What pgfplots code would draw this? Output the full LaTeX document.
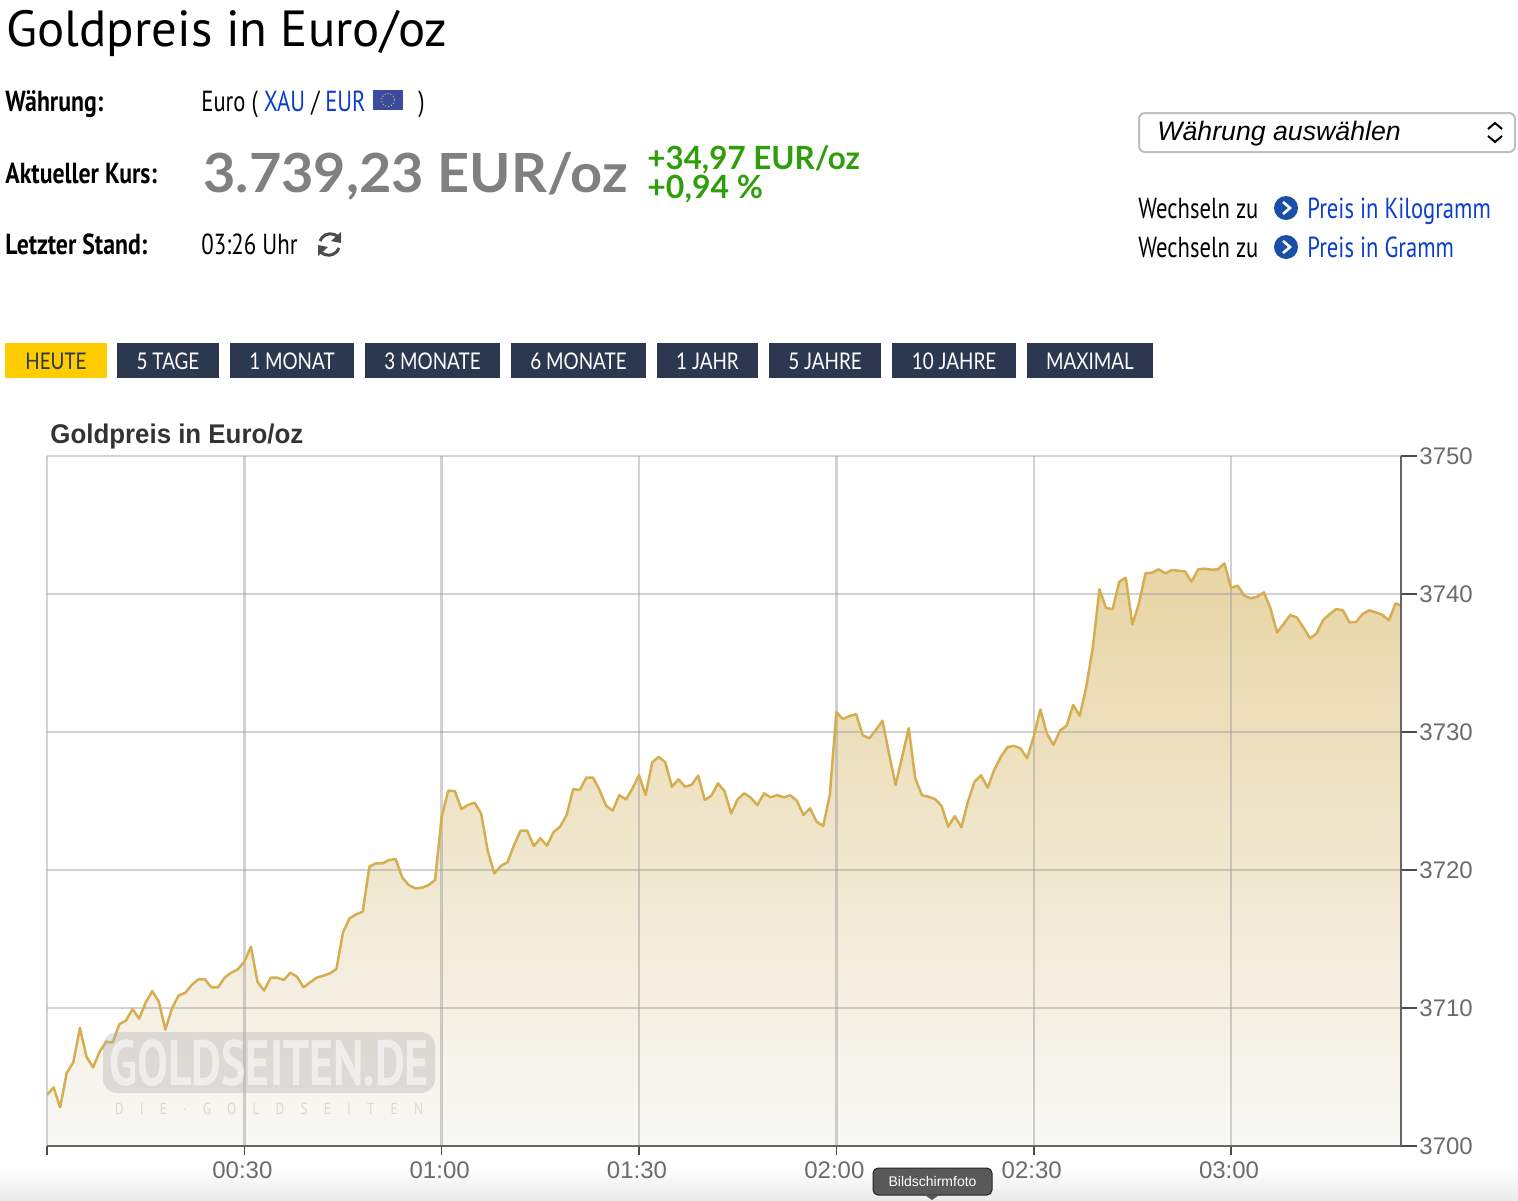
\documentclass[border=0pt]{standalone}
\usepackage{fontspec}
\usepackage{pgfplots}
\usepackage{pgfplotstable}
\pgfplotsset{compat=1.18}
\setmainfont{Liberation Sans}
\newfontfamily\pts{PT Sans}
\newfontfamily\lato{Lato}
\newfontfamily\arial{Liberation Sans}
\definecolor{lnk}{HTML}{0B3FCB}
\definecolor{grn}{HTML}{2E9E0A}
\definecolor{btn}{HTML}{2C3850}
\definecolor{icn}{HTML}{1A4FA8}
\definecolor{goldl}{HTML}{D6AE52}
\definecolor{tk}{HTML}{6B6B6B}
\definecolor{ftop}{HTML}{E8D5A5}
\definecolor{fbot}{HTML}{F8F8F6}
\definecolor{by}{HTML}{FFCC00}
\definecolor{flag}{HTML}{3B4BA0}
\newcommand\fs[1]{\fontsize{#1}{#1}\selectfont}
\pgfplotstableread{
m p
0 3703.7
1 3704.25
2 3702.8
3 3705.3
4 3706.06
5 3708.57
6 3706.47
7 3705.7
8 3706.84
9 3707.56
10 3707.5
11 3708.84
12 3709.08
13 3709.93
14 3709.23
15 3710.39
16 3711.23
17 3710.46
18 3708.45
19 3709.98
20 3710.9
21 3711.1
22 3711.67
23 3712.08
24 3712.08
25 3711.5
26 3711.5
27 3712.2
28 3712.56
29 3712.8
30 3713.36
31 3714.44
32 3711.9
33 3711.26
34 3712.2
35 3712.2
36 3712.03
37 3712.56
38 3712.27
39 3711.5
40 3711.86
41 3712.2
42 3712.34
43 3712.5
44 3712.83
45 3715.48
46 3716.5
47 3716.79
48 3716.98
49 3720.24
50 3720.48
51 3720.48
52 3720.72
53 3720.8
54 3719.47
55 3718.91
56 3718.67
57 3718.72
58 3718.91
59 3719.28
60 3723.86
61 3725.75
62 3725.72
63 3724.42
64 3724.71
65 3724.88
66 3724.1
67 3721.4
68 3719.76
69 3720.3
70 3720.56
71 3721.8
72 3722.85
73 3722.85
74 3721.74
75 3722.3
76 3721.76
77 3722.75
78 3723.14
79 3723.99
80 3725.87
81 3725.8
82 3726.7
83 3726.7
84 3725.8
85 3724.66
86 3724.3
87 3725.43
88 3725.12
89 3725.9
90 3726.88
91 3725.43
92 3727.8
93 3728.2
94 3727.8
95 3726.04
96 3726.57
97 3726.04
98 3726.18
99 3726.84
100 3725.07
101 3725.39
102 3726.28
103 3725.72
104 3724.1
105 3725.12
106 3725.56
107 3725.24
108 3724.7
109 3725.56
110 3725.27
111 3725.43
112 3725.27
113 3725.41
114 3725.02
115 3723.99
116 3724.47
117 3723.5
118 3723.19
119 3725.43
120 3731.43
121 3730.94
122 3731.16
123 3731.3
124 3729.78
125 3729.54
126 3730.14
127 3730.82
128 3728.45
129 3726.16
130 3728.2
131 3730.27
132 3726.64
133 3725.43
134 3725.31
135 3725.14
136 3724.64
137 3723.14
138 3723.9
139 3723.1
140 3724.95
141 3726.4
142 3726.86
143 3725.97
144 3727.25
145 3728.2
146 3728.9
147 3729.0
148 3728.8
149 3728.1
150 3729.66
151 3731.64
152 3729.9
153 3729.06
154 3730.1
155 3730.46
156 3731.96
157 3731.18
158 3733.29
159 3736.18
160 3740.34
161 3739.0
162 3738.9
163 3740.89
164 3741.18
165 3737.8
166 3739.32
167 3741.5
168 3741.55
169 3741.79
170 3741.5
171 3741.74
172 3741.69
173 3741.64
174 3740.89
175 3741.79
176 3741.84
177 3741.76
178 3741.79
179 3742.22
180 3740.46
181 3740.6
182 3739.88
183 3739.69
184 3739.81
185 3740.12
186 3738.96
187 3737.22
188 3737.83
189 3738.48
190 3738.3
191 3737.58
192 3736.79
193 3737.15
194 3738.12
195 3738.55
196 3738.91
197 3738.82
198 3737.95
199 3737.97
200 3738.55
201 3738.82
202 3738.67
203 3738.5
204 3738.09
205 3739.32
205.84 3739.15
}\gold
\pgfplotsset{
 layers/mine/.define layer set={axis background,filllayer,axis grid,axis ticks,axis lines,main,axis tick labels,axis descriptions,axis foreground}{
  grid style={/pgfplots/on layer=axis grid},
  tick style={/pgfplots/on layer=axis ticks},
  axis line style={/pgfplots/on layer=axis lines},
  label style={/pgfplots/on layer=axis descriptions},
  title style={/pgfplots/on layer=axis descriptions},
  tick label style={/pgfplots/on layer=axis tick labels},
 },
}
\begin{document}
\begin{tikzpicture}
\begin{scope}[x=0.5pt,y=-0.5pt]
\path[use as bounding box] (0,0) rectangle (1518,1200);
\shade[top color=white,bottom color=black!8] (0,1168) rectangle (1518,1200);
% header
\node[anchor=base west,inner sep=0] at (6,46) {\pts\fs{25.4}Goldpreis in Euro/oz};
\node[anchor=base west,inner sep=0] at (5,111) {\pts\bfseries\fs{14.5}\scalebox{.82}[1]{Währung:}};
\node[anchor=base west,inner sep=0] at (5,183) {\pts\bfseries\fs{14.5}\scalebox{.82}[1]{Aktueller Kurs:}};
\node[anchor=base west,inner sep=0] at (5,254) {\pts\bfseries\fs{14.5}\scalebox{.82}[1]{Letzter Stand:}};
\node[anchor=base west,inner sep=0] at (201,111) {\pts\fs{14.5}\scalebox{.78}[1]{Euro ( \textcolor{lnk}{XAU} / \textcolor{lnk}{EUR}}};
\node[anchor=base west,inner sep=0] at (418,111) {\pts\fs{14.5}\scalebox{.78}[1]{)}};
\fill[flag] (373,90) rectangle (403,110);
\draw[yellow!80!black,densely dotted,line width=.5pt] (388,100) circle[radius=6.5];
\node[anchor=base west,inner sep=0] at (203,192) {\lato\bfseries\fs{27}\color{black!50}\scalebox{1.034}[1]{3.739,23 EUR/oz}};
\node[anchor=base west,inner sep=0] at (647,169) {\lato\bfseries\fs{16}\color{grn}\scalebox{.98}[1]{+34,97 EUR/oz}};
\node[anchor=base west,inner sep=0] at (647,198) {\lato\bfseries\fs{16}\color{grn}+0,94 \%};
\node[anchor=base west,inner sep=0] at (201,254) {\pts\fs{14.5}\scalebox{.79}[1]{03:26 Uhr}};
% refresh icon
\draw[black!70,line width=1.5pt] (320,241) arc[start angle=200,end angle=320,radius=11];
\fill[black!70] (341,232) -- (341,243) -- (331,241) -- cycle;
\draw[black!70,line width=1.5pt] (339,248) arc[start angle=20,end angle=140,radius=11];
\fill[black!70] (318,256) -- (318,245) -- (328,247) -- cycle;
% select
\draw[black!25,line width=1pt,rounded corners=3pt,fill=white] (1139,113) rectangle (1515,152);
\node[anchor=base west,inner sep=0] at (1157,140) {\arial\itshape\fs{13.35}Währung auswählen};
\draw[black,line width=1pt] (1488,129) -- (1495,123) -- (1502,129);
\draw[black,line width=1pt] (1488,136) -- (1495,142) -- (1502,136);
% links
\foreach \yy/\lab in {218/Preis in Kilogramm,257/Preis in Gramm}{
 \node[anchor=base west,inner sep=0] at (1138,\yy) {\pts\fs{14.5}\scalebox{.78}[1]{Wechseln zu}};
 \fill[icn] (1286,\yy-10) circle[radius=12];
 \draw[white,line width=1.3pt] (1283,\yy-16) -- (1290,\yy-10) -- (1283,\yy-4);
 \node[anchor=base west,inner sep=0] at (1307,\yy) {\pts\fs{14.5}\scalebox{.78}[1]{\textcolor{lnk}{\lab}}};
}
% buttons
\fill[by] (5,343) rectangle (107,378);
\node[inner sep=0] at (56,361) {\lato\fs{11.5}\color{btn}\scalebox{.82}[1]{HEUTE}};
\foreach \a/\b/\lab in {117/219/5 TAGE,230/354/1 MONAT,365/500/3 MONATE,511/646/6 MONATE,657/758/1 JAHR,769/881/5 JAHRE,892/1016/10 JAHRE,1027/1153/MAXIMAL}{
 \fill[btn] (\a,343) rectangle (\b,378);
 \node[inner sep=0] at ({(\a+\b)/2},361) {\lato\fs{11.5}\color{white}\scalebox{.82}[1]{\lab}};
}
% chart title
\node[anchor=base west,inner sep=0] at (50,443) {\arial\bfseries\fs{13.5}\color{black!80}\scalebox{.958}[1]{Goldpreis in Euro/oz}};
\end{scope}
\begin{axis}[
 set layers=mine,
 at={(23.5pt,-573pt)},anchor=south west,
 scale only axis,width=677pt,height=345pt,
 xmin=0,xmax=205.84,ymin=3700,ymax=3750,
 axis x line*=bottom,axis y line*=right,
 axis line style={color=black!60,line width=.8pt,-},
 xtick={0,30,60,90,120,150,180},
 xticklabels={,00:30,01:00,01:30,02:00,02:30,03:00},
 ytick={3700,3710,3720,3730,3740,3750},
 yticklabels={},
 grid=major,
 grid style={color=black!42,opacity=.42,line width=1.2pt},
 tick style={color=black!70,line width=.8pt},
 tick align=outside,
 xtick pos=bottom,ytick pos=right,
 major tick length=4.5pt,
 /pgf/number format/assume math mode=true,
 /pgf/number format/1000 sep={},
 tick label style={font=\arial\fs{12},color=tk},
 xticklabel style={inner sep=0pt,yshift=-3pt,xshift=-1pt},
]
\addplot[draw=none,top color=ftop,bottom color=fbot,on layer=filllayer] table[x=m,y=p] {\gold} \closedcycle;
\addplot[color=goldl,line width=1.25pt,line join=round] table[x=m,y=p] {\gold};
\end{axis}
\begin{axis}[
 at={(23.5pt,-573pt)},anchor=south west,
 scale only axis,width=677pt,height=345pt,
 xmin=0,xmax=205.84,ymin=3700,ymax=3750,
 axis x line=none,axis y line*=right,
 axis line style={color=black!60,line width=.8pt,-},
 ytick={3700,3710,3720,3730,3740,3750},
 tick style={color=black!70,line width=.8pt},
 tick align=outside,ytick pos=right,
 major tick length=8pt,
 /pgf/number format/assume math mode=true,
 /pgf/number format/1000 sep={},
 tick label style={font=\arial\fs{12},color=tk},
 yticklabel style={inner sep=0pt,xshift=1pt},
]
\end{axis}
\begin{scope}[x=0.5pt,y=-0.5pt]
% watermark
\fill[black!30,opacity=.38,rounded corners=7pt] (103,1032) rectangle (435,1093);
\node[inner sep=0,opacity=.55] at (269,1063) {\pts\bfseries\fs{32}\color{white}\scalebox{.72}[1]{GOLDSEITEN.DE}};
\node[inner sep=0,opacity=.8] at (269,1109) {\pts\fs{8}\color{black!18}\scalebox{.84}[1]{D\hspace{1.2em}I\hspace{1.2em}E\hspace{1.2em}·\hspace{1.2em}G\hspace{1.2em}O\hspace{1.2em}L\hspace{1.2em}D\hspace{1.2em}S\hspace{1.2em}E\hspace{1.2em}I\hspace{1.2em}T\hspace{1.2em}E\hspace{1.2em}N}};
% tooltip
\fill[black!65,draw=black!85,line width=.5pt,rounded corners=2.5pt] (873,1168) rectangle (992,1195);
\fill[black!65] (925,1195) -- (939,1195) -- (932,1200) -- cycle;
\node[inner sep=0] at (932.5,1181.5) {\arial\fs{7}\color{white}Bildschirmfoto};
\end{scope}
\end{tikzpicture}
\end{document}
